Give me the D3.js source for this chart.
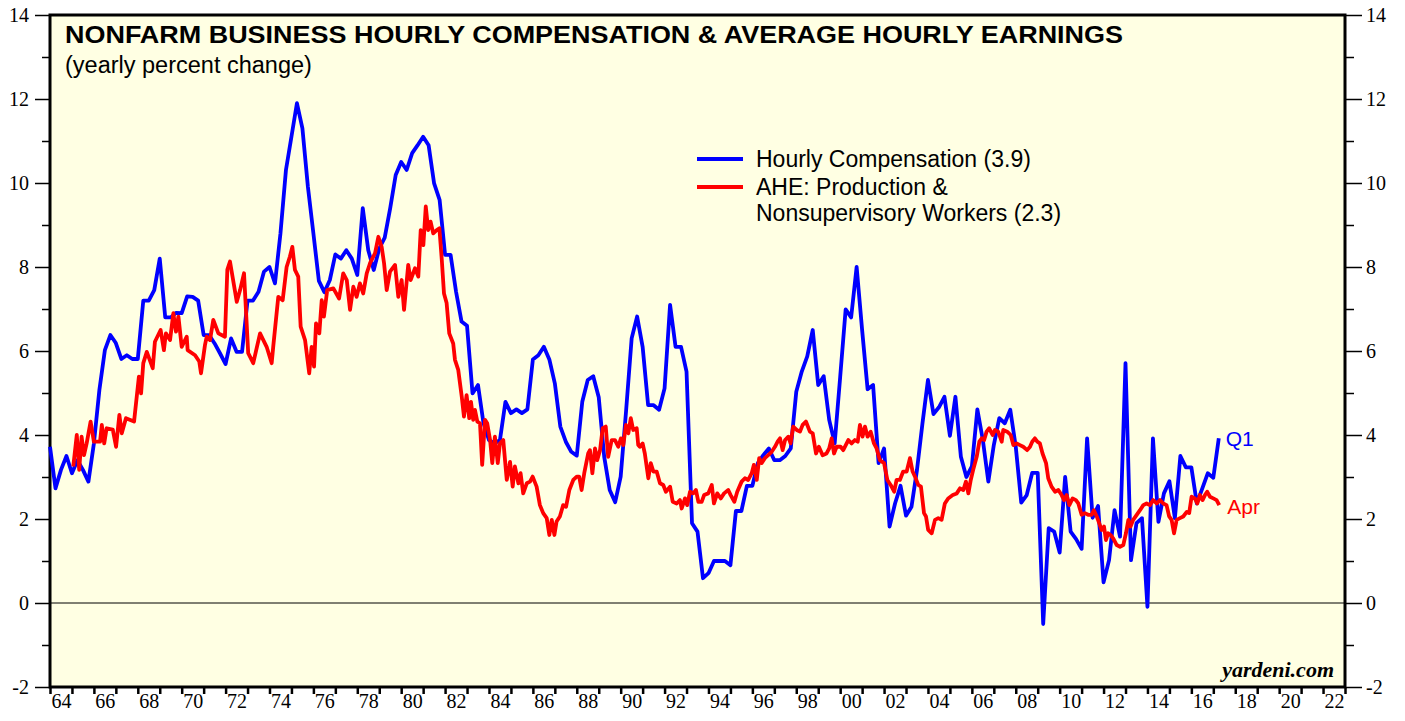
<!DOCTYPE html>
<html>
<head>
<meta charset="utf-8">
<script src="https://cdn.jsdelivr.net/npm/d3@7/dist/d3.min.js"></script>
<style>
    body { margin: 0; background: #fff; }
    svg { display: block; }
    .tick text { font-family: "Liberation Serif", "Times New Roman", serif; font-size: 20px; fill: #000; }
    .domain { display: none; }
</style>
</head>
<body>
<svg id="chart" width="1405" height="721"></svg>
<script>
/*global d3*/

// Nonfarm business hourly compensation, yoy %, quarterly from 1964.0
var compStart = 1964;
var compValues = [
    3.72, 2.73, 3.17, 3.5, 3.09, 3.4, 3.17, 2.89, 3.8, 5.07, 6.02, 6.38, 6.19, 5.81, 5.9, 5.81,
    5.81, 7.2, 7.2, 7.45, 8.2, 6.8, 6.8, 6.91, 6.9, 7.3, 7.29, 7.2, 6.38, 6.38, 6.18, 5.94,
    5.69, 6.3, 5.98, 5.98, 7.2, 7.2, 7.41, 7.89, 8.0, 7.61, 8.8, 10.31, 11.1, 11.9, 11.3, 9.91,
    8.8, 7.67, 7.4, 7.69, 8.3, 8.2, 8.4, 8.2, 7.81, 9.4, 8.4, 7.93, 8.44, 8.7, 9.4, 10.19,
    10.5, 10.31, 10.71, 10.9, 11.1, 10.9, 9.99, 9.6, 8.29, 8.29, 7.41, 6.7, 6.6, 4.99, 5.19, 4.28,
    3.88, 3.8, 3.88, 4.79, 4.52, 4.61, 4.52, 4.61, 5.8, 5.9, 6.1, 5.8, 5.23, 4.2, 3.84, 3.6,
    3.51, 4.79, 5.31, 5.4, 4.9, 3.48, 2.69, 2.4, 3.01, 4.6, 6.3, 6.82, 6.1, 4.71, 4.71, 4.6,
    5.11, 7.1, 6.1, 6.1, 5.51, 1.9, 1.7, 0.59, 0.71, 1.0, 1.0, 1.0, 0.9, 2.19, 2.19, 2.79,
    2.79, 3.33, 3.52, 3.68, 3.4, 3.4, 3.5, 3.68, 5.03, 5.51, 5.87, 6.5, 5.19, 5.4, 4.36, 3.8,
    5.38, 6.99, 6.8, 8.0, 6.5, 5.09, 5.19, 3.33, 3.68, 1.82, 2.37, 2.79, 2.08, 2.29, 3.17, 4.28,
    5.31, 4.5, 4.66, 4.91, 3.98, 4.91, 3.48, 3.0, 3.25, 4.61, 3.88, 2.89, 3.76, 4.4, 4.28, 4.6,
    3.72, 2.39, 2.57, 3.1, 3.1, -0.5, 1.78, 1.7, 1.2, 3.0, 1.7, 1.52, 1.29, 3.92, 2.03, 2.31,
    0.49, 1.02, 2.21, 1.58, 5.71, 1.02, 1.9, 2.02, -0.09, 3.92, 1.93, 2.61, 2.9, 2.02, 3.5, 3.23,
    3.23, 2.37, 2.73, 3.09, 2.98, 3.92
];

// AHE production & nonsupervisory workers, yoy %, [year, value]
var ahePoints = [
    [1965.06, 3.25], [1965.22, 4.0], [1965.33, 3.17], [1965.44, 3.96], [1965.55, 3.52], [1965.67, 3.8],
    [1965.85, 4.32], [1966.0, 3.84], [1966.28, 3.84], [1966.36, 4.24], [1966.47, 3.8], [1966.58, 4.16],
    [1966.86, 4.13], [1967.01, 3.72], [1967.16, 4.48], [1967.27, 4.04], [1967.46, 4.4], [1967.83, 4.32],
    [1968.05, 5.39], [1968.15, 4.99], [1968.25, 5.71], [1968.41, 5.98], [1968.68, 5.59], [1968.78, 6.22],
    [1969.04, 6.5], [1969.19, 6.02], [1969.28, 6.42], [1969.47, 6.26], [1969.62, 6.9], [1969.74, 6.46],
    [1969.85, 6.82], [1970.0, 6.1], [1970.23, 6.34], [1970.27, 6.02], [1970.61, 5.9], [1970.8, 5.75],
    [1970.88, 5.47], [1971.06, 6.14], [1971.14, 6.34], [1971.29, 6.26], [1971.44, 6.74], [1971.67, 6.42],
    [1971.82, 6.38], [1971.97, 6.34], [1972.08, 7.94], [1972.2, 8.13], [1972.51, 7.17], [1972.66, 7.45],
    [1972.84, 7.85], [1973.03, 5.95], [1973.26, 5.71], [1973.57, 6.42], [1973.87, 6.1], [1974.1, 5.71],
    [1974.17, 6.1], [1974.4, 7.29], [1974.6, 7.21], [1974.78, 8.0], [1974.93, 8.25], [1975.04, 8.48],
    [1975.16, 7.93], [1975.31, 7.77], [1975.42, 6.58], [1975.62, 6.26], [1975.81, 5.47], [1975.92, 6.1],
    [1976.03, 5.63], [1976.12, 6.66], [1976.27, 6.42], [1976.38, 7.21], [1976.48, 6.82], [1976.63, 7.45],
    [1976.91, 7.49], [1977.17, 7.25], [1977.36, 7.85], [1977.52, 7.69], [1977.67, 6.98], [1977.82, 7.53],
    [1977.97, 7.29], [1978.12, 7.61], [1978.27, 7.37], [1978.43, 7.85], [1978.58, 8.09], [1978.81, 8.33],
    [1978.96, 8.72], [1979.11, 8.48], [1979.22, 8.09], [1979.34, 7.45], [1979.49, 7.89], [1979.72, 8.05],
    [1979.87, 7.29], [1980.02, 7.69], [1980.13, 6.98], [1980.32, 8.05], [1980.43, 7.69], [1980.63, 7.97],
    [1980.78, 7.77], [1980.89, 8.88], [1981.01, 8.52], [1981.12, 9.44], [1981.23, 8.88], [1981.34, 9.08],
    [1981.46, 8.8], [1981.62, 8.88], [1981.74, 8.92], [1981.85, 8.17], [1981.95, 7.37], [1982.07, 7.14],
    [1982.19, 6.42], [1982.37, 6.18], [1982.45, 5.79], [1982.6, 5.55], [1982.76, 4.91], [1982.86, 4.44],
    [1982.98, 4.95], [1983.1, 4.4], [1983.18, 4.79], [1983.28, 4.36], [1983.36, 4.6], [1983.47, 4.32],
    [1983.59, 4.28], [1983.69, 3.29], [1983.82, 4.36], [1983.92, 4.28], [1984.05, 3.88], [1984.15, 3.33],
    [1984.27, 3.96], [1984.4, 3.33], [1984.5, 3.8], [1984.65, 3.88], [1984.81, 2.93], [1984.96, 3.36],
    [1985.08, 2.77], [1985.18, 3.25], [1985.34, 2.85], [1985.44, 3.09], [1985.56, 2.61], [1985.72, 2.85],
    [1985.87, 2.89], [1985.99, 3.01], [1986.17, 2.77], [1986.32, 2.33], [1986.47, 2.14], [1986.63, 2.02],
    [1986.75, 1.62], [1986.86, 1.98], [1986.98, 1.62], [1987.08, 1.94], [1987.23, 2.06], [1987.38, 2.33],
    [1987.51, 2.29], [1987.66, 2.69], [1987.84, 2.93], [1988.0, 3.01], [1988.11, 3.01], [1988.22, 2.69],
    [1988.34, 3.09], [1988.52, 3.56], [1988.6, 3.64], [1988.71, 3.09], [1988.83, 3.68], [1988.93, 3.4],
    [1989.06, 3.64], [1989.18, 4.16], [1989.32, 4.2], [1989.43, 3.48], [1989.59, 3.88], [1989.74, 3.88],
    [1989.89, 3.72], [1990.01, 3.92], [1990.12, 3.76], [1990.24, 4.24], [1990.35, 4.04], [1990.46, 4.4],
    [1990.57, 4.12], [1990.73, 4.16], [1990.8, 3.76], [1990.87, 3.72], [1991.0, 3.8], [1991.1, 3.56],
    [1991.26, 2.97], [1991.37, 3.33], [1991.49, 3.13], [1991.64, 3.13], [1991.79, 2.85], [1991.94, 2.81],
    [1992.06, 2.65], [1992.25, 2.77], [1992.37, 2.41], [1992.55, 2.37], [1992.7, 2.45], [1992.78, 2.25],
    [1992.93, 2.49], [1993.03, 2.33], [1993.16, 2.65], [1993.31, 2.61], [1993.43, 2.69], [1993.54, 2.41],
    [1993.69, 2.41], [1993.8, 2.57], [1993.99, 2.61], [1994.15, 2.81], [1994.25, 2.37], [1994.4, 2.61],
    [1994.56, 2.49], [1994.71, 2.61], [1994.9, 2.69], [1995.01, 2.57], [1995.18, 2.41], [1995.31, 2.65],
    [1995.51, 2.89], [1995.66, 2.97], [1995.81, 2.93], [1995.97, 3.09], [1996.07, 3.29], [1996.2, 2.93],
    [1996.31, 3.45], [1996.42, 3.33], [1996.57, 3.45], [1996.72, 3.52], [1996.88, 3.6], [1997.03, 3.72],
    [1997.15, 3.84], [1997.26, 3.92], [1997.38, 3.64], [1997.49, 3.88], [1997.64, 3.96], [1997.74, 3.8],
    [1997.86, 4.2], [1998.02, 4.12], [1998.17, 4.08], [1998.29, 4.24], [1998.44, 4.32], [1998.62, 4.08],
    [1998.75, 4.04], [1998.9, 3.56], [1999.03, 3.72], [1999.2, 3.52], [1999.38, 3.56], [1999.5, 3.68],
    [1999.61, 3.92], [1999.72, 3.56], [1999.84, 3.72], [2000.02, 3.72], [2000.14, 3.64], [2000.37, 3.88],
    [2000.52, 3.8], [2000.67, 3.88], [2000.8, 3.84], [2000.9, 4.24], [2001.02, 3.96], [2001.13, 4.2],
    [2001.25, 3.96], [2001.39, 4.08], [2001.54, 3.8], [2001.66, 3.68], [2001.81, 3.4], [2002.0, 3.33],
    [2002.15, 2.93], [2002.3, 2.81], [2002.46, 2.65], [2002.57, 2.93], [2002.72, 2.93], [2002.87, 3.13],
    [2003.03, 3.13], [2003.18, 3.45], [2003.3, 3.13], [2003.41, 3.01], [2003.56, 2.81], [2003.68, 2.77],
    [2003.82, 2.14], [2003.91, 2.06], [2004.01, 1.74], [2004.17, 1.66], [2004.32, 1.98], [2004.47, 2.02],
    [2004.62, 1.98], [2004.77, 2.37], [2004.92, 2.49], [2005.13, 2.57], [2005.31, 2.61], [2005.46, 2.73],
    [2005.61, 2.69], [2005.73, 2.89], [2005.84, 2.61], [2005.95, 2.93], [2006.06, 3.17], [2006.22, 3.48],
    [2006.34, 3.84], [2006.45, 3.92], [2006.56, 3.88], [2006.67, 4.08], [2006.79, 4.16], [2006.95, 4.0],
    [2007.05, 4.12], [2007.2, 4.08], [2007.36, 3.84], [2007.43, 4.12], [2007.61, 4.08], [2007.77, 4.0],
    [2007.89, 3.76], [2008.04, 3.8], [2008.19, 3.76], [2008.34, 3.72], [2008.52, 3.64], [2008.65, 3.72],
    [2008.75, 3.84], [2008.87, 3.92], [2008.98, 3.84], [2009.1, 3.8], [2009.22, 3.56], [2009.38, 3.33],
    [2009.48, 2.97], [2009.63, 2.77], [2009.79, 2.65], [2009.94, 2.69], [2010.09, 2.57], [2010.2, 2.45],
    [2010.32, 2.57], [2010.44, 2.33], [2010.59, 2.49], [2010.74, 2.45], [2010.85, 2.37], [2011.0, 2.1],
    [2011.15, 2.14], [2011.3, 2.1], [2011.46, 2.1], [2011.56, 2.21], [2011.69, 2.06], [2011.8, 1.9],
    [2011.91, 1.74], [2012.02, 1.82], [2012.11, 1.5], [2012.21, 1.66], [2012.32, 1.62], [2012.44, 1.54],
    [2012.6, 1.38], [2012.75, 1.34], [2012.9, 1.38], [2013.02, 1.66], [2013.13, 1.98], [2013.23, 1.82],
    [2013.35, 1.98], [2013.51, 2.1], [2013.66, 2.21], [2013.81, 2.33], [2013.96, 2.37], [2014.11, 2.33],
    [2014.26, 2.45], [2014.42, 2.37], [2014.57, 2.45], [2014.72, 2.37], [2014.87, 2.33], [2014.99, 2.06],
    [2015.1, 1.98], [2015.21, 1.66], [2015.33, 1.98], [2015.48, 2.02], [2015.63, 2.06], [2015.79, 2.17],
    [2015.9, 2.14], [2016.01, 2.53], [2016.16, 2.49], [2016.27, 2.37], [2016.39, 2.57], [2016.51, 2.45],
    [2016.62, 2.57], [2016.72, 2.65], [2016.85, 2.53], [2017.0, 2.49], [2017.15, 2.45], [2017.27, 2.33]
];

var yearTicks = d3.range(1964, 2024);
var yearLabels = d3.range(1964, 2023, 2);
var valueTicks = d3.range(-2, 15);

var svg = d3.select("#chart");
var margin = {top: 15, right: 60, bottom: 34, left: 50};
var width = 1405 - margin.left - margin.right;
var height = 721 - margin.top - margin.bottom;

var x = d3.scaleLinear().domain([1964, 2023]).range([margin.left, margin.left + width]);
var y = d3.scaleLinear().domain([-2, 14]).range([margin.top + height, margin.top]);

// plot background
svg.append("rect")
    .attr("x", x(1964)).attr("y", y(14))
    .attr("width", x(2023) - x(1964)).attr("height", y(-2) - y(14))
    .attr("fill", "#ffffe3");

// zero line
svg.append("line")
    .attr("x1", x(1964)).attr("x2", x(2023))
    .attr("y1", y(0)).attr("y2", y(0))
    .attr("stroke", "#000").attr("stroke-width", 1);

// left axis
var left = svg.append("g")
    .attr("transform", "translate(" + x(1964) + ",0)")
    .call(d3.axisLeft(y).tickValues(valueTicks).tickSize(15).tickPadding(6)
        .tickFormat(function (d) { return d % 2 === 0 ? d : ""; }));
left.selectAll(".tick line")
    .attr("stroke-width", 1.5)
    .attr("x2", function (d) { return d % 2 === 0 ? -15 : -8; });

// right axis
var right = svg.append("g")
    .attr("transform", "translate(" + x(2023) + ",0)")
    .call(d3.axisRight(y).tickValues(valueTicks).tickSize(17).tickPadding(4)
        .tickFormat(function (d) { return d % 2 === 0 ? d : ""; }));
right.selectAll(".tick line")
    .attr("stroke-width", 1.5)
    .attr("x2", function (d) { return d % 2 === 0 ? 17 : 9; });

// bottom axis: year ticks, labels mid-year
svg.append("g")
    .attr("transform", "translate(0," + y(-2) + ")")
    .call(d3.axisBottom(x).tickValues(yearTicks).tickSize(7).tickFormat(""))
    .selectAll(".tick line").attr("stroke-width", 2.5);

svg.append("g")
    .attr("transform", "translate(0," + y(-2) + ")")
    .call(d3.axisBottom(x).tickValues(yearLabels.map(function (d) { return d + 0.5; }))
        .tickSize(0).tickPadding(7)
        .tickFormat(function (d) { return d3.format("02d")(Math.floor(d) % 100); }));

// frame
svg.append("rect")
    .attr("x", x(1964)).attr("y", y(14))
    .attr("width", x(2023) - x(1964)).attr("height", y(-2) - y(14))
    .attr("fill", "none").attr("stroke", "#000").attr("stroke-width", 3);

// series
var compLine = d3.line()
    .x(function (d, i) { return x(compStart + i * 0.25); })
    .y(function (d) { return y(d); });

var aheLine = d3.line()
    .x(function (d) { return x(d[0]); })
    .y(function (d) { return y(d[1]); });

svg.append("path")
    .datum(compValues)
    .attr("d", compLine)
    .attr("fill", "none").attr("stroke", "#0000ff")
    .attr("stroke-width", 3.8).attr("stroke-linejoin", "round");

svg.append("path")
    .datum(ahePoints)
    .attr("d", aheLine)
    .attr("fill", "none").attr("stroke", "#ff0000")
    .attr("stroke-width", 3.8).attr("stroke-linejoin", "round");

// titles
var sans = "'Liberation Sans', Arial, Helvetica, sans-serif";
svg.append("text")
    .attr("x", 65).attr("y", 43)
    .attr("font-family", sans).attr("font-weight", "bold").attr("font-size", 24)
    .attr("textLength", 1058).attr("lengthAdjust", "spacingAndGlyphs")
    .text("NONFARM BUSINESS HOURLY COMPENSATION & AVERAGE HOURLY EARNINGS");
svg.append("text")
    .attr("x", 65).attr("y", 73)
    .attr("font-family", sans).attr("font-size", 23.5)
    .text("(yearly percent change)");

// legend
var legend = [
    {color: "#0000ff", lines: ["Hourly Compensation (3.9)"], ly: 159},
    {color: "#ff0000", lines: ["AHE: Production &", "Nonsupervisory Workers (2.3)"], ly: 187}
];
legend.forEach(function (l) {
    svg.append("line")
        .attr("x1", 697).attr("x2", 743).attr("y1", l.ly).attr("y2", l.ly)
        .attr("stroke", l.color).attr("stroke-width", 3.8);
    l.lines.forEach(function (t, i) {
        svg.append("text")
            .attr("x", 756).attr("y", l.ly + 8 + i * 26)
            .attr("font-family", sans).attr("font-size", 23)
            .text(t);
    });
});

// end labels
svg.append("text")
    .attr("x", x(compStart + (compValues.length - 1) * 0.25) + 7)
    .attr("y", y(compValues[compValues.length - 1]) + 8)
    .attr("font-family", sans).attr("font-size", 21).attr("fill", "#0000ff")
    .text("Q1");
svg.append("text")
    .attr("x", x(ahePoints[ahePoints.length - 1][0]) + 8)
    .attr("y", y(ahePoints[ahePoints.length - 1][1]) + 9)
    .attr("font-family", sans).attr("font-size", 21).attr("fill", "#ff0000")
    .text("Apr");

svg.append("text")
    .attr("x", 1334).attr("y", 677)
    .attr("text-anchor", "end")
    .attr("font-family", "'Liberation Serif', 'Times New Roman', serif")
    .attr("font-weight", "bold").attr("font-style", "italic").attr("font-size", 22)
    .text("yardeni.com");
</script>
</body>
</html>
